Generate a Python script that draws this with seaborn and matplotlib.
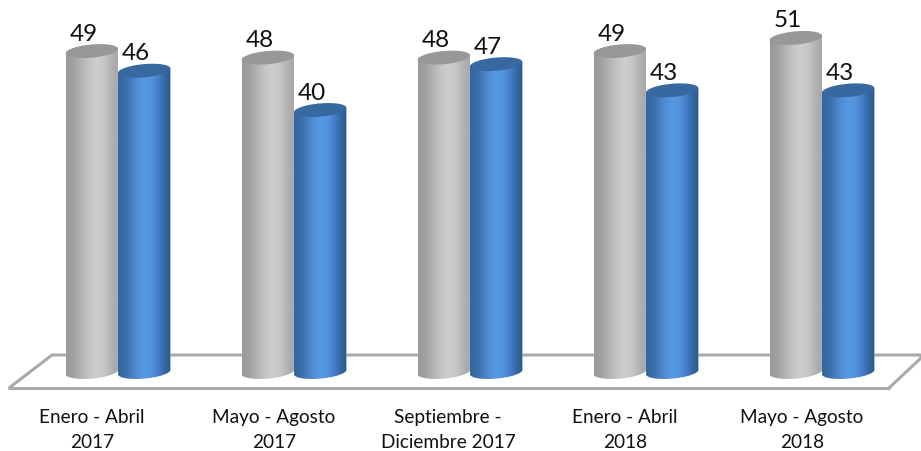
#%%
import numpy as np
import pandas as pd
import seaborn as sns
from matplotlib import pyplot as plt
from matplotlib.patches import Polygon
from matplotlib.transforms import ScaledTranslation

periodos = ["Enero - Abril\n2017", "Mayo - Agosto\n2017", "Septiembre -\nDiciembre 2017",
            "Enero - Abril\n2018", "Mayo - Agosto\n2018"]
serie_gris = [49, 48, 48, 49, 51]
serie_azul = [46, 40, 47, 43, 43]

W, H = 921, 451
PX_X = 176      # pixels per category
PX_Y = 6.55     # pixels per value unit
X0, Y0 = 118, 372   # pixel position of first category / zero
AX_BOTTOM = 392

df = pd.DataFrame({
    "periodo": periodos * 2,
    "valor": serie_gris + serie_azul,
    "serie": ["gris"] * 5 + ["azul"] * 5,
})

#%%
sns.set_theme(style="white")
plt.rcParams["font.family"] = ["Lato", "DejaVu Sans"]

fig = plt.figure(figsize=(W / 100, H / 100), dpi=100)
ax = fig.add_axes([0, (H - AX_BOTTOM) / H, 1, AX_BOTTOM / H])

sns.barplot(data=df, x="periodo", y="valor", hue="serie", ax=ax, width=0.595,
            palette={"gris": "#bdbdbd", "azul": "#4f8bd6"}, legend=False, saturation=1)

xlim = (-X0 / PX_X, (W - X0) / PX_X)
ylim = ((Y0 - AX_BOTTOM) / PX_Y, Y0 / PX_Y)
ax.set_xlim(xlim)
ax.set_ylim(ylim)
ax.set(xlabel="", ylabel="", yticks=[])
sns.despine(ax=ax, left=True, bottom=True)

# floor of the 3d chart, in pixels
px = lambda pts: [(x / W, 1 - y / H) for x, y in pts]
fig.add_artist(plt.Polygon(px([(9, 388), (52, 355), (921, 355), (921, 358), (889, 388)]),
                           closed=False, fill=False, edgecolor="#a9a9a9", lw=2.2,
                           transform=fig.transFigure, zorder=0))
fig.add_artist(plt.Line2D([9 / W, 889 / W], [1 - 388 / H] * 2, color="#a9a9a9", lw=2.2, zorder=0))
ax.patch.set_alpha(0)

#%%
GRAD = {
    "gris": ["#9a9a9a", "#adadad", "#c4c4c4", "#d0d0d0", "#c6c6c6", "#a8a8a8"],
    "azul": ["#35669f", "#457dc0", "#5596e0", "#5a9ae4", "#4a84cc", "#2e5c92"],
}
CAP = {"gris": "#989898", "azul": "#37689f"}
CAP_H = 6.6 / PX_Y      # half height of the ellipse, value units
TILT = 2.2 / PX_Y       # rise at the right hand side


def to_rgb(cols):
    return np.array([plt.matplotlib.colors.to_rgb(c) for c in cols])[None, :, :]


def cilindro(patch, serie, zorder):
    x0, w, v = patch.get_x(), patch.get_width(), patch.get_height()
    t = np.linspace(0, np.pi, 60)
    xs = x0 + w / 2 + w / 2 * np.cos(t)
    shear = TILT * np.cos(t)
    top = v + CAP_H * np.sin(t) + shear
    low = -CAP_H * np.sin(t) + shear
    # outline: bottom arc from left to right, then the top centre line
    body = np.r_[np.c_[xs[::-1], low[::-1]], np.c_[[x0 + w, x0], [v + TILT, v - TILT]]]
    clip = Polygon(body, transform=ax.transData)
    patch.set_clip_path(clip)
    patch.set_zorder(zorder)
    img = ax.imshow(to_rgb(GRAD[serie]), extent=(x0, x0 + w, -2, v + 2), aspect="auto",
                    interpolation="bicubic", zorder=zorder + 0.1)
    img.set_clip_path(clip)
    cap = np.r_[np.c_[xs, top], np.c_[xs[::-1][1:-1], (v - CAP_H * np.sin(t) + shear)[::-1][1:-1]]]
    ax.add_patch(Polygon(cap, closed=True, facecolor=CAP[serie], edgecolor="none",
                         zorder=zorder + 0.2))


for cont, serie, z in zip(ax.containers, ["gris", "azul"], [3, 4]):
    for patch, val in zip(cont, df.loc[df.serie == serie, "valor"]):
        cilindro(patch, serie, z)
        ax.annotate(str(val), (patch.get_x() + patch.get_width() / 2, val),
                    xytext=(-8 * 0.72, 17 * 0.72), textcoords="offset points", ha="center",
                    va="center", fontsize=17.5, color="#111111", zorder=6)

ax.set_xlim(xlim)
ax.set_ylim(ylim)

ax.tick_params(axis="x", length=0, pad=12.5)
# labels sit to the left of their bars, not quite evenly
lab_shift = [-26, -20, -22, -21, -20]
for lab, dx in zip(ax.get_xticklabels(), lab_shift):
    lab.set_fontsize(13.7)
    lab.set_color("#111111")
    lab.set_linespacing(1.56)
    lab.set_transform(lab.get_transform() + ScaledTranslation(dx / 100, 0, fig.dpi_scale_trans))

plt.savefig("out.png", dpi=100)
